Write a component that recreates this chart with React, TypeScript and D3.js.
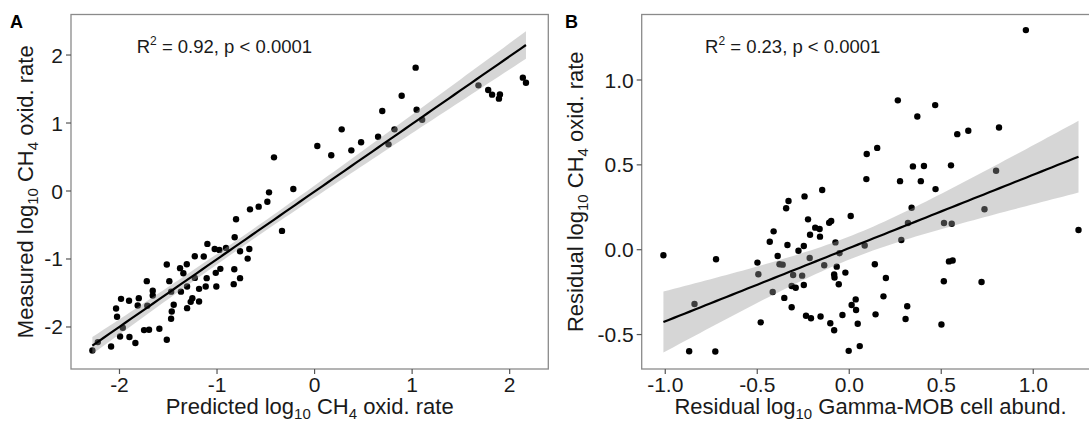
import React from "react";
import * as d3 from "d3";

// ---------- Panel A: predicted vs measured log10 CH4 oxidation rate ----------
const predA = [
  1.036, 0.893, 0.694, 1.046, 1.103, 0.819, 0.651, 0.758, 0.278, 0.028, 0.171, 0.377, 0.477,
  1.68, 1.78, 1.82, 1.9, 1.89, 2.135, 2.167,
  -0.416, -0.218, -0.467, -0.484, -0.573, -0.662, -0.334, -0.805, -0.819, -0.669, -0.764, -0.686,
  -0.908, -0.976, -1.024, -1.099, -1.136, -1.228, -0.966, -1.013, -1.106, -0.823, -0.764, -0.829,
  -1.007, -1.116, -1.184, -1.184, -1.253, -1.27, -1.307, -1.228, -1.31, -1.379, -1.345, -1.307,
  -1.37, -1.47, -1.489, -1.515, -1.444, -1.464, -1.471, -1.515, -1.591, -1.659, -1.659, -1.72,
  -1.715, -1.697, -1.748, -1.802, -1.813, -1.902, -1.984, -2.035, -2.025, -1.966, -1.994, -1.898,
  -1.837, -2.086, -2.278, -2.222,
];
const measA = [
  1.814, 1.402, 1.176, 1.196, 1.049, 0.907, 0.799, 0.686, 0.907, 0.662, 0.525, 0.598, 0.716,
  1.554, 1.485, 1.417, 1.42, 1.358, 1.667, 1.593,
  0.495, 0.029, -0.02, -0.157, -0.23, -0.27, -0.587, -0.416, -0.68, -0.852, -0.886, -0.994,
  -0.837, -0.866, -0.852, -0.778, -0.964, -0.959, -1.145, -1.204, -1.282, -1.15, -1.282, -1.37,
  -1.405, -1.405, -1.439, -1.625, -1.576, -1.63, -1.723, -1.278, -1.077, -1.135, -1.209, -1.405,
  -1.48, -1.48, -1.326, -1.082, -1.674, -1.772, -1.88, -2.188, -2.026, -1.468, -1.536, -1.326,
  -1.686, -2.041, -2.046, -1.576, -1.684, -1.615, -1.586, -1.728, -1.85, -2.012, -2.139, -2.148,
  -2.236, -2.286, -2.346, -2.222,
];

// ---------- Panel B: residual Gamma-MOB abundance vs residual CH4 oxidation ----------
const resAbundB = [
  -1.01, -0.87, -0.728, -0.724, -0.841, -0.499, -0.494, -0.481, -0.416, -0.432, -0.411, -0.389,
  -0.379, -0.362, -0.353, -0.343, -0.33, -0.336, -0.313, -0.305, -0.313, -0.291, -0.276, -0.256,
  -0.247, -0.247, -0.243, -0.235, -0.224, -0.215, -0.213, -0.208, -0.185, -0.161, -0.159, -0.156,
  -0.147, -0.136, -0.109, -0.098, -0.103, -0.082, -0.08, -0.082, -0.075, -0.068, -0.057, -0.053,
  -0.021, -0.037, -0.003, 0.008, 0.013, 0.035, 0.037, 0.046, 0.057, 0.084, 0.093, 0.095,
  0.139, 0.143, 0.152, 0.186, 0.199, 0.264, 0.276, 0.283, 0.306, 0.315, 0.319, 0.339,
  0.346, 0.37, 0.389, 0.406, 0.467, 0.469, 0.501, 0.514, 0.515, 0.542, 0.553, 0.557,
  0.562, 0.587, 0.647, 0.719, 0.735, 0.798, 0.814, 1.246, 0.96,
];
const resOxidB = [
  -0.033, -0.598, -0.6, -0.056, -0.32, -0.076, -0.145, -0.428, -0.249, 0.047, 0.108, -0.037,
  -0.086, -0.088, -0.284, 0.244, 0.287, 0.028, -0.339, -0.149, -0.214, -0.224, -0.006, -0.153,
  -0.208, 0.022, 0.314, -0.389, 0.179, -0.049, 0.088, -0.404, 0.13, 0.122, 0.077, -0.394,
  0.352, -0.092, 0.159, 0.169, -0.433, -0.146, -0.164, -0.475, 0.043, -0.1, -0.204, -0.021,
  -0.135, -0.385, -0.596, 0.199, -0.326, -0.293, -0.355, -0.436, -0.568, 0.025, 0.416, 0.564,
  -0.086, -0.381, 0.6, -0.275, -0.167, 0.88, 0.404, 0.057, -0.408, -0.333, 0.157, 0.247,
  0.491, 0.785, 0.404, 0.493, 0.852, 0.357, -0.441, -0.186, 0.157, -0.069, 0.497, 0.153,
  -0.064, 0.681, 0.701, -0.19, 0.238, 0.465, 0.72, 0.116, 1.294,
];

// ---------- axes ----------
const ticksA_x = [-2, -1, 0, 1, 2];
const ticksA_y = [-2, -1, 0, 1, 2];
const ticksB_x = [-1.0, -0.5, 0.0, 0.5, 1.0];
const ticksB_y = [-0.5, 0.0, 0.5, 1.0];
const limitsA_x = [-2.497, 2.396];
const limitsA_y = [-2.618, 2.596];
const limitsB_x = [-1.128, 1.359];
const limitsB_y = [-0.703, 1.386];

// axis titles as [text, isSubscript] runs
type Run = [string, boolean];
const titleA_x: Run[] = [["Predicted log", false], ["10", true], [" CH", false], ["4", true], [" oxid. rate", false]];
const titleA_y: Run[] = [["Measured log", false], ["10", true], [" CH", false], ["4", true], [" oxid. rate", false]];
const titleB_x: Run[] = [["Residual log", false], ["10", true], [" Gamma-MOB cell abund.", false]];
const titleB_y: Run[] = [["Residual log", false], ["10", true], [" CH", false], ["4", true], [" oxid. rate", false]];

const FONT = "'Liberation Sans', Arial, Helvetica, sans-serif";
const TXT = "#1a1a1a";

function linFit(xs: number[], ys: number[]) {
  const n = xs.length;
  const mx = d3.mean(xs)!;
  const my = d3.mean(ys)!;
  let sxx = 0, sxy = 0;
  for (let i = 0; i < n; i++) {
    sxx += (xs[i] - mx) ** 2;
    sxy += (xs[i] - mx) * (ys[i] - my);
  }
  const b = sxy / sxx;
  const a = my - b * mx;
  let sse = 0;
  for (let i = 0; i < n; i++) sse += (ys[i] - a - b * xs[i]) ** 2;
  const s = Math.sqrt(sse / (n - 2));
  const t = 1.987;
  const ext = d3.extent(xs) as [number, number];
  const grid = d3.range(80).map((i) => ext[0] + ((ext[1] - ext[0]) * i) / 79);
  return grid.map((x) => {
    const f = a + b * x;
    const se = s * Math.sqrt(1 / n + (x - mx) ** 2 / sxx);
    return { x, f, lo: f - t * se, hi: f + t * se };
  });
}

function runs(rs: Run[]) {
  const out: React.ReactNode[] = [];
  let shifted = 0;
  rs.forEach(([s, isSub], i) => {
    const target = isSub ? 5 : 0;
    const dy = target - shifted;
    shifted = target;
    out.push(
      <tspan key={i} dy={dy} fontSize={isSub ? 15 : undefined}>
        {s}
      </tspan>
    );
  });
  return out;
}

type PanelProps = {
  xs: number[];
  ys: number[];
  left: number;
  right: number;
  xLim: number[];
  yLim: number[];
  xTicks: number[];
  yTicks: number[];
  fmt: (v: number) => string;
  label: string;
  labelX: number;
  annX: number;
  r2: string;
  yTitleX: number;
  xTitle: Run[];
  yTitle: Run[];
};

const TOP = 14.5;
const BOTTOM = 369;

function Panel(p: PanelProps) {
  const x = d3.scaleLinear().domain(p.xLim).range([p.left, p.right]);
  const y = d3.scaleLinear().domain(p.yLim).range([BOTTOM, TOP]);
  const fit = linFit(p.xs, p.ys);
  const area = d3
    .area<any>()
    .x((d) => x(d.x))
    .y0((d) => y(d.lo))
    .y1((d) => y(d.hi));
  const line = d3
    .line<any>()
    .x((d) => x(d.x))
    .y((d) => y(d.f));
  const cx = (p.left + p.right) / 2;
  const cy = (TOP + BOTTOM) / 2;
  return (
    <g>
      {p.xs.map((v, i) => (
        <circle key={i} cx={x(v)} cy={y(p.ys[i])} r={3.2} fill="#000" />
      ))}
      <path d={area(fit) || ""} fill="#999999" fillOpacity={0.4} />
      <path d={line(fit) || ""} fill="none" stroke="#000" strokeWidth={2.2} />
      <rect
        x={p.left}
        y={TOP}
        width={p.right - p.left}
        height={BOTTOM - TOP}
        fill="none"
        stroke="#8a8a8a"
        strokeWidth={1.3}
      />
      {p.xTicks.map((t) => (
        <g key={"x" + t}>
          <line x1={x(t)} x2={x(t)} y1={BOTTOM} y2={BOTTOM + 5} stroke="#555" strokeWidth={1.2} />
          <text x={x(t)} y={392} textAnchor="middle" fontSize={21} fill={TXT}>
            {p.fmt(t)}
          </text>
        </g>
      ))}
      {p.yTicks.map((t) => (
        <g key={"y" + t}>
          <line x1={p.left - 5} x2={p.left} y1={y(t)} y2={y(t)} stroke="#555" strokeWidth={1.2} />
          <text x={p.left - 8} y={y(t) + 7.5} textAnchor="end" fontSize={21} fill={TXT}>
            {p.fmt(t)}
          </text>
        </g>
      ))}
      <text x={cx} y={414} textAnchor="middle" fontSize={22} fill={TXT}>
        {runs(p.xTitle)}
      </text>
      <text
        transform={`translate(${p.yTitleX},${cy}) rotate(-90)`}
        textAnchor="middle"
        fontSize={22}
        fill={TXT}
      >
        {runs(p.yTitle)}
      </text>
      <text x={p.labelX} y={28} fontSize={18} fontWeight="bold" fill="#000">
        {p.label}
      </text>
      <text x={p.annX} y={53} fontSize={18.5} fill={TXT}>
        <tspan>R</tspan>
        <tspan fontSize={12} dy={-8}>
          2
        </tspan>
        <tspan dy={8}>{` = ${p.r2}, p < 0.0001`}</tspan>
      </text>
    </g>
  );
}

export default function App() {
  const fmtA = (v: number) => d3.format("d")(v).replace("\u2212", "-");
  const fmtB = (v: number) => d3.format(".1f")(v).replace("\u2212", "-");
  return (
    <svg
      width={1089}
      height={426}
      style={{ position: "absolute", left: 0, top: 0, background: "#fff" }}
      fontFamily={FONT}
    >
      <rect width={1089} height={426} fill="#fff" />
      <Panel
        xs={predA}
        ys={measA}
        left={71}
        right={548.3}
        xLim={limitsA_x}
        yLim={limitsA_y}
        xTicks={ticksA_x}
        yTicks={ticksA_y}
        fmt={fmtA}
        label="A"
        labelX={10}
        annX={136.7}
        r2="0.92"
        yTitleX={33}
        xTitle={titleA_x}
        yTitle={titleA_y}
      />
      <Panel
        xs={resAbundB}
        ys={resOxidB}
        left={641.7}
        right={1099.3}
        xLim={limitsB_x}
        yLim={limitsB_y}
        xTicks={ticksB_x}
        yTicks={ticksB_y}
        fmt={fmtB}
        label="B"
        labelX={565}
        annX={705}
        r2="0.23"
        yTitleX={583}
        xTitle={titleB_x}
        yTitle={titleB_y}
      />
    </svg>
  );
}
